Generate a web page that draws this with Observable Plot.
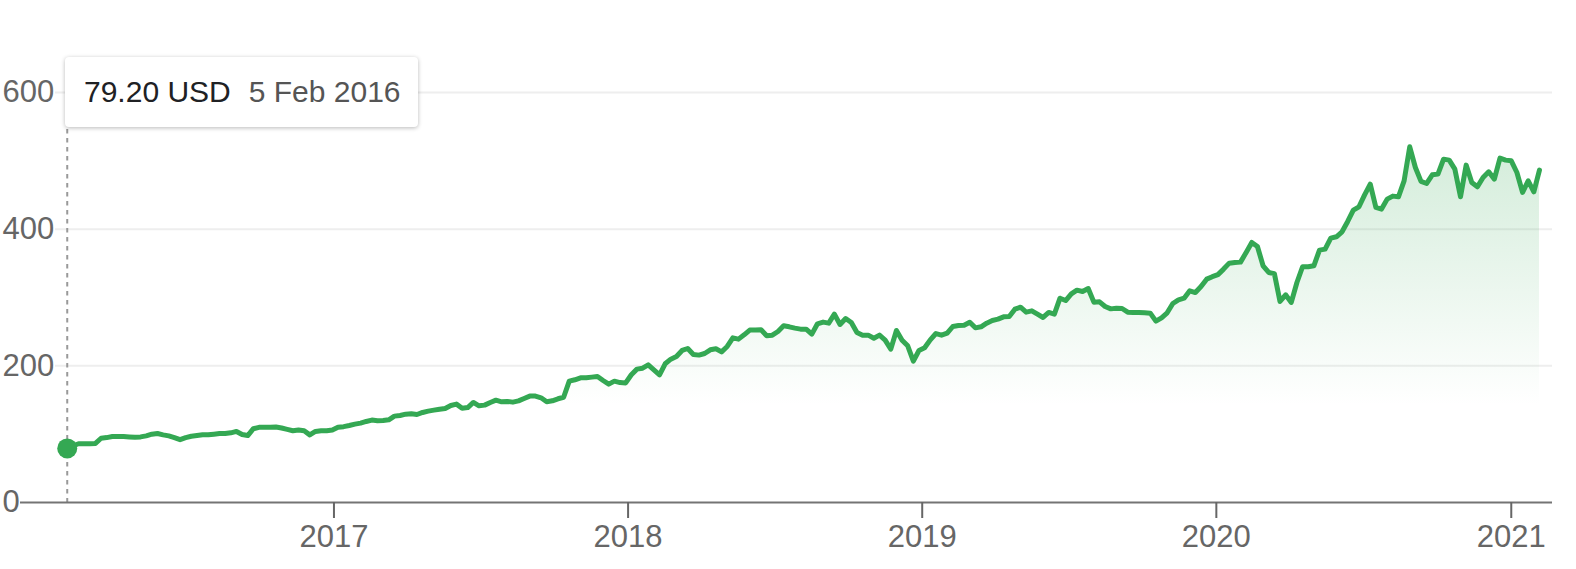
<!DOCTYPE html>
<html><head><meta charset="utf-8">
<script src="https://cdn.jsdelivr.net/npm/d3@7"></script>
<script src="https://cdn.jsdelivr.net/npm/@observablehq/plot@0.6"></script>
<style>
body{margin:0;background:#fff;}
#wrap{position:relative;width:1576px;height:569px;font-family:Arial,"Liberation Sans",sans-serif;}
#tip{position:absolute;left:65px;top:57px;width:353px;height:70px;background:#fff;border-radius:4px;
  box-shadow:0 1px 4px rgba(0,0,0,0.28);display:flex;align-items:center;padding-left:19px;box-sizing:border-box;
  font-size:30px;white-space:nowrap;}
#tip .v{color:#202124;}
#tip .d{color:#555;margin-left:18px;}
</style></head>
<body>
<div id="wrap"><div id="tip"><span class="v"></span><span class="d"></span></div></div>
<script>
// Weekly closing prices (USD), first week 5 Feb 2016
const startDate = "2016-02-05";
const currency = "USD";
const prices = [
79.2,83,86,86,86,86.5,94,95,96.5,96.5,96.5,96,95.5,96,97.5,100,101,99,97.5,95,
92,95,97,98,99,99,100,101,101,102,104,99.5,98,108,110,110,110,110.5,109,107,
105,106,105,99,104,105,105,106,110,111,112.7,114.7,116.2,118.6,120.6,119.6,120,121,126.4,127.4,
129.3,129.8,128.8,131.8,133.7,135.2,136.6,137.6,142,144,138,139,146.4,141.5,142.5,146.4,149.8,147.4,147.9,146.9,
148.8,152.3,155.7,155.7,153.2,147.4,148.8,151.8,154,177.6,179.6,182.5,182.5,183.5,184.5,178.6,173.2,177.6,175.5,175,
187,195.2,196.6,201.5,194.2,186.9,203,209.8,213.7,222.5,225.4,216.6,215.7,218.1,223.5,225,220.5,228.4,241,239.1,
245.4,252.3,252.3,252.7,244,244.9,250.3,258.6,257.1,255.2,253.7,253.7,246.4,261.5,264,262.5,275.7,260.5,269.3,263.5,
248.8,244.9,244.9,240.5,244.9,237.6,224.5,251.8,237.6,229.3,207,222.5,226.4,238,247.3,244.9,247.8,257.6,259,259.5,
263.9,255.6,257.1,262.5,266.4,268.3,271.7,272.2,282.9,285.9,278.6,280.5,275.6,270.8,278.1,275.6,299,295.6,305.4,310.8,
308.8,313.2,293.2,293.7,286.9,283.4,284.4,283.9,278.6,278.1,278.1,277.6,277.1,265.4,270.3,277.6,291.2,296.6,299,309.8,
307.3,316,326.9,330.5,333.5,341.6,350.3,351.3,351.8,366,380.6,374.7,346.4,336.7,335,294.2,304,292.8,322,345,
345,346.4,369.4,370.8,386.9,388.9,396.2,411.3,427.9,432.8,450.3,466,431.8,429.4,444,448.4,447.4,470.8,520.6,490.3,
469.9,466.9,479.6,480.6,502.5,501.1,487.9,447.4,493.8,468.4,462,475.7,484,473.3,504,501.1,500.1,483,453.8,470.8,
454.7,486.4
];
const yTicks = [0, 200, 400, 600];
const gridValues = [200, 400, 600];
const xTickYears = [2017, 2018, 2019, 2020, 2021];

const green = "#34a853";
const start = new Date(startDate + "T00:00:00Z");
const data = prices.map((v, i) => ({date: d3.utcDay.offset(start, 7 * i), value: v}));
const xTicks = xTickYears.map(y => new Date(Date.UTC(y, 0, 1)));

const svg = Plot.plot({
  width: 1576,
  height: 569,
  marginLeft: 20,
  marginRight: 24,
  marginTop: 0,
  marginBottom: 67,
  style: {fontFamily: 'Arial, "Liberation Sans", sans-serif', background: "transparent", overflow: "visible"},
  x: {type: "utc", domain: [new Date("2015-12-09T00:00:00Z"), new Date("2021-02-21T04:00:00Z")]},
  y: {domain: [0, 734.7], axis: null},
  marks: [
    Plot.ruleY(gridValues, {stroke: "#eeeeee", strokeWidth: 2, insetLeft: 35}),
    Plot.areaY(data, {x: "date", y: "value", fill: "url(#fadeGreen)"}),
    Plot.ruleX([data[0].date], {stroke: "#999", strokeWidth: 2, strokeDasharray: "4.5,4.5", insetTop: 120}),
    Plot.ruleY([0], {stroke: "#747474", strokeWidth: 2}),
    Plot.axisX({ticks: xTicks, tickFormat: d3.utcFormat("%Y"), tickSize: 16, tickPadding: 6,
      fontSize: 31, color: "#666", strokeWidth: 2}),
    Plot.text(yTicks, {y: d => d, text: d => String(d), frameAnchor: "left", textAnchor: "start",
      dx: -18, fontSize: 31, fill: "#666"}),
    Plot.line(data, {x: "date", y: "value", stroke: green, strokeWidth: 5, strokeLinejoin: "round"}),
    Plot.dot([data[0]], {x: "date", y: "value", r: 10, fill: green})
  ]
});

const defs = d3.select(svg).insert("defs", ":first-child");
const grad = defs.append("linearGradient").attr("id", "fadeGreen")
  .attr("gradientUnits", "userSpaceOnUse").attr("x1", 0).attr("x2", 0).attr("y1", 150).attr("y2", 405);
grad.append("stop").attr("offset", 0).attr("stop-color", green).attr("stop-opacity", 0.21);
grad.append("stop").attr("offset", 1).attr("stop-color", green).attr("stop-opacity", 0);

const wrap = document.getElementById("wrap");
wrap.insertBefore(svg, wrap.firstChild);
document.querySelector("#tip .v").textContent = prices[0].toFixed(2) + " " + currency;
document.querySelector("#tip .d").textContent = d3.utcFormat("%-d %b %Y")(data[0].date);
</script>
</body></html>
